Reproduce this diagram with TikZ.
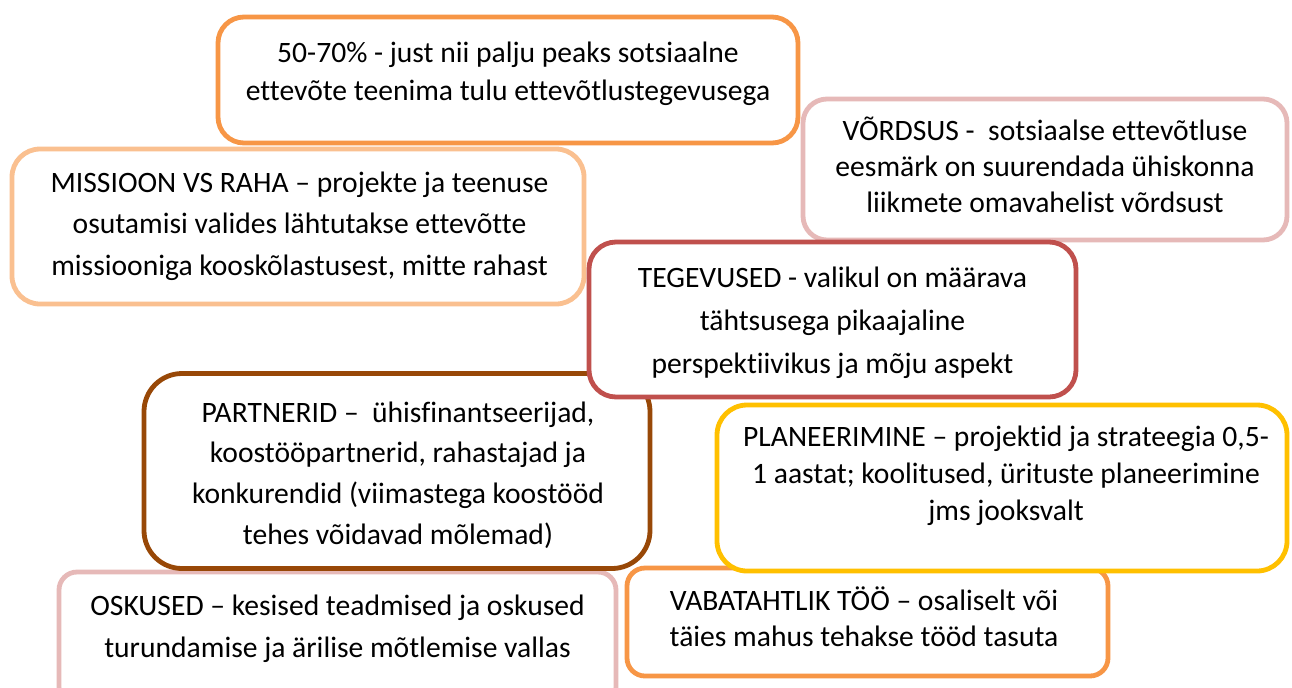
\documentclass[tikz,border=0pt]{standalone}
\usepackage{fontspec}
\setmainfont{Carlito}[Ligatures=NoCommon]
\definecolor{cOrange}{HTML}{F79646}
\definecolor{cPink}{HTML}{E6B9B8}
\definecolor{cLight}{HTML}{FAC090}
\definecolor{cRed}{HTML}{C0504D}
\definecolor{cBrown}{HTML}{984807}
\definecolor{cGold}{HTML}{FFC000}
\tikzset{
  bx/.style n args={4}{draw=#1, fill=white, line width=3.6pt, inner sep=0pt,
    minimum width=#2*0.75pt, minimum height=#3*0.75pt, rounded corners=#4*0.75pt},
  tx/.style={align=center, inner sep=0pt, anchor=base, text=black,
    font={\fontsize{22.2}{#1}\selectfont}}
}
\begin{document}
\begin{tikzpicture}[x=0.75pt,y=-0.75pt]
\useasboundingbox (0,0) rectangle (1292,687);
\clip (0,0) rectangle (1292,687);
\fill[white] (0,0) rectangle (1292,687);
% OSKUSED
\node[bx={cPink}{557}{133}{18}] (g) at (337.5,638.5) {};
\node[tx=31.5] (gt) at (337.5,657) {OSKUSED – kesised teadmised ja oskused\\turundamise ja ärilise mõtlemise vallas};
% VABATAHTLIK
\node[bx={cOrange}{481}{108}{18}] (h) at (867.5,622) {};
\node[tx=27] (ht) at (864,646) {VABATAHTLIK TÖÖ – osaliselt või\\täies mahus tehakse tööd tasuta};
% PARTNERID
\node[bx={cBrown}{506}{195}{38}] (e) at (397,471) {};
\node[tx=30.5] (et) at (398,544) {PARTNERID – \ ühisfinantseerijad,\\koostööpartnerid, rahastajad ja\\konkurendid (viimastega koostööd\\tehes võidavad mõlemad)};
% PLANEERIMINE
\node[bx={cGold}{570}{166}{30}] (f) at (1002,488) {};
\node[tx=27.4] (ft) at (1006,520) {PLANEERIMINE – projektid ja strateegia 0,5-\\1 aastat; koolitused, ürituste planeerimine\\jms jooksvalt};
% MISSIOON
\node[bx={cLight}{572}{155}{28}] (c) at (298,226.5) {};
\node[tx=31] (ct) at (299.5,275) {MISSIOON VS RAHA – projekte ja teenuse\\osutamisi valides lähtutakse ettevõtte\\missiooniga kooskõlastusest, mitte rahast};
% 50-70%
\node[bx={cOrange}{580}{126}{26}] (a) at (508,80) {};
\node[tx=29] (at) at (508,100.7) {50-70\% - just nii palju peaks sotsiaalne\\ettevõte teenima tulu ettevõtlustegevusega};
% VÕRDSUS
\node[bx={cPink}{484}{141}{24}] (b) at (1045,169.5) {};
\node[tx=27] (bt) at (1045,212) {VÕRDSUS - \ sotsiaalse ettevõtluse\\eesmärk on suurendada ühiskonna\\liikmete omavahelist võrdsust};
% TEGEVUSED
\node[bx={cRed}{487}{155}{27}] (d) at (832.5,319.5) {};
\node[tx=32.25] (dt) at (832.5,373) {TEGEVUSED - valikul on määrava\\tähtsusega pikaajaline\\perspektiivikus ja mõju aspekt};
\end{tikzpicture}
\end{document}
